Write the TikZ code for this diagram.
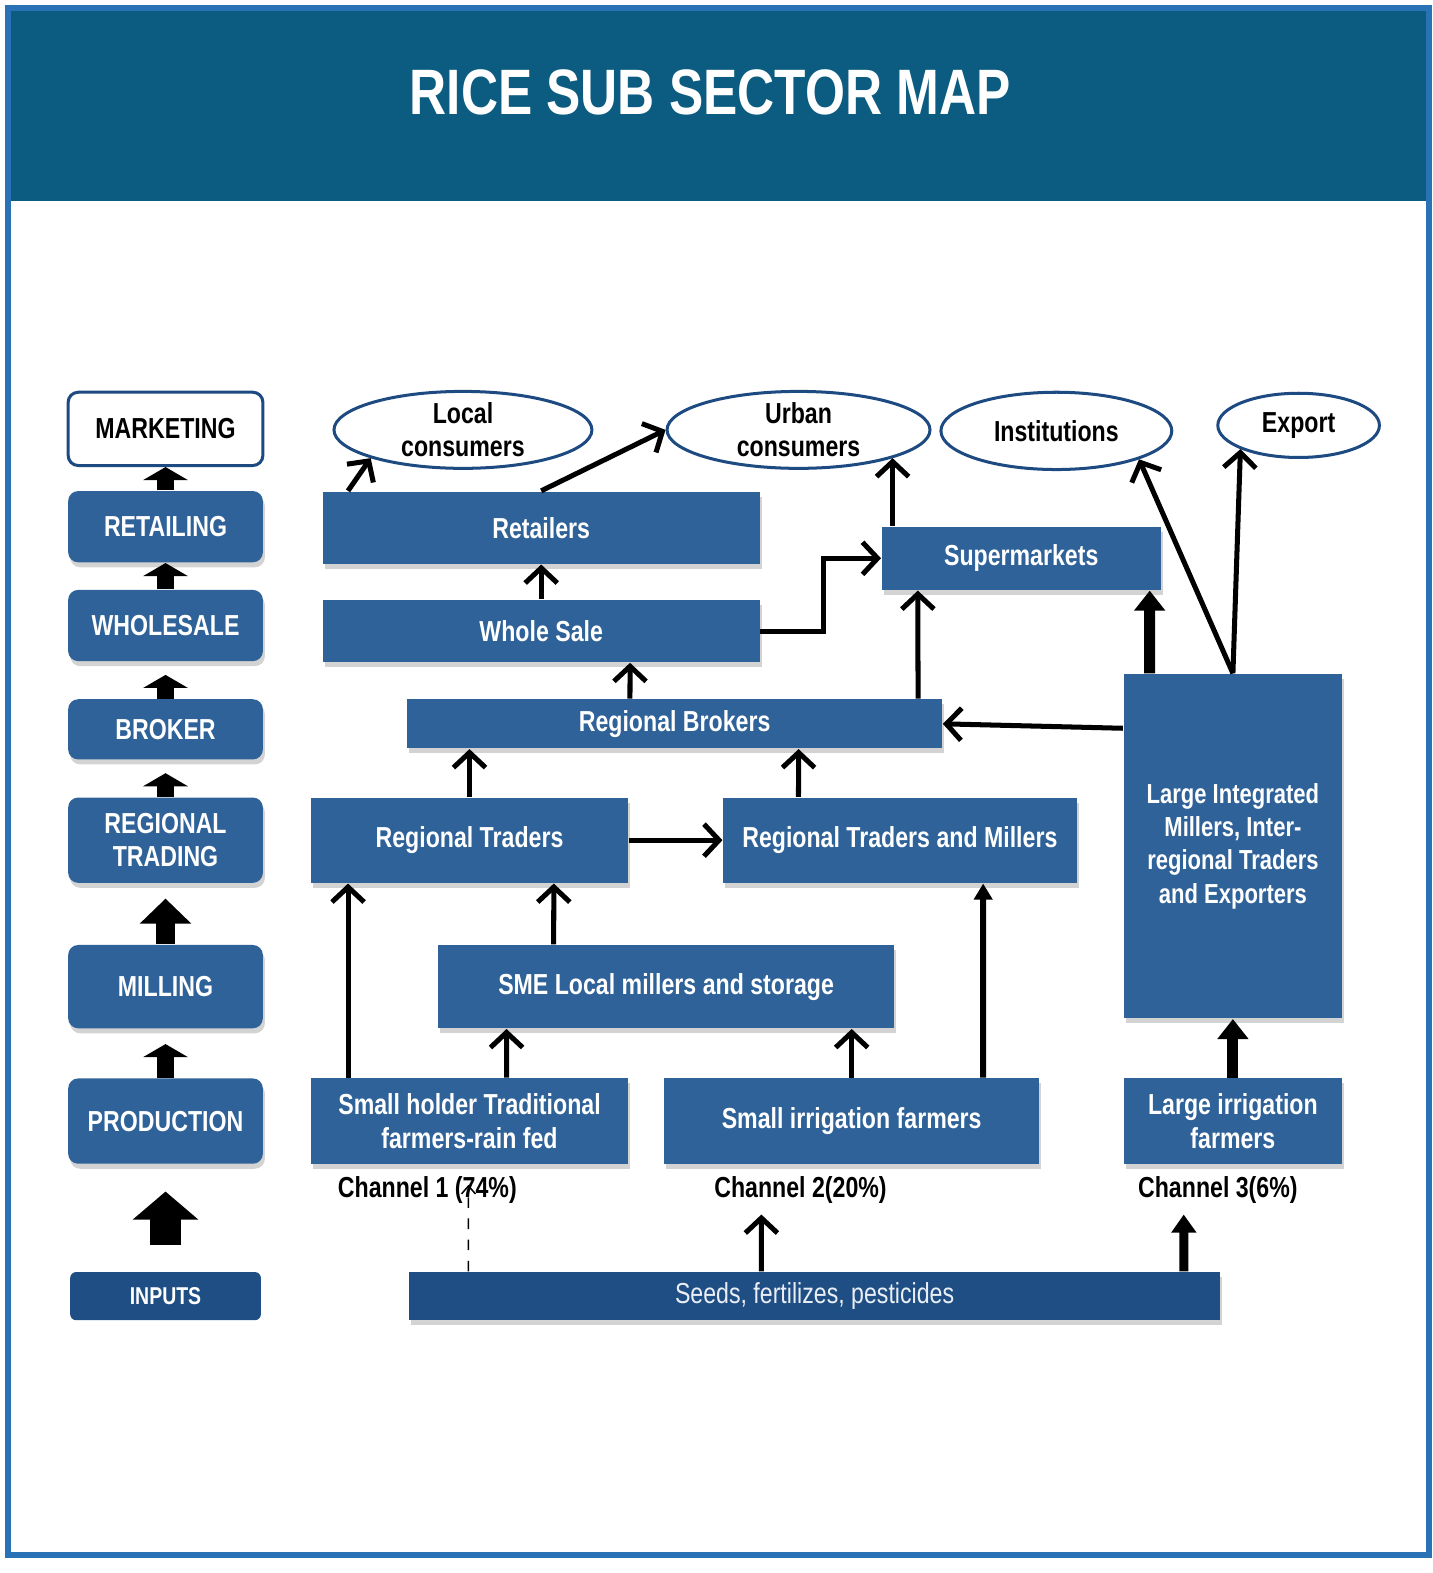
\documentclass[tikz,border=0pt]{standalone}
\usepackage{fontspec}
\usepackage{xcolor}
\setmainfont{Liberation Sans}[FakeStretch=0.8]
\usetikzlibrary{arrows.meta,shapes.geometric,shadows}
\definecolor{boxblue}{HTML}{2F6298}
\definecolor{inblue}{HTML}{1F4E84}
\definecolor{headblue}{HTML}{0B5C80}
\definecolor{frameblue}{HTML}{2A72B6}
\definecolor{rimblue}{HTML}{1E4A82}
\newcommand{\BoxFont}{\fontsize{8.2}{9.4}\selectfont\bfseries}

\begin{document}
\begin{tikzpicture}[x=0.01cm,y=-0.01cm,
  lift/.style={drop shadow={shadow xshift=0.02cm,shadow yshift=-0.05cm,opacity=0.35}},
  stage/.style={rectangle,rounded corners=0.1cm,fill=boxblue,text=white,font=\BoxFont,
    minimum width=1.94cm,inner sep=0pt,align=center},
  actor/.style={rectangle,fill=boxblue,text=white,font=\BoxFont,inner sep=0pt,align=center,lift},
  market/.style={ellipse,draw=rimblue,line width=0.03cm,fill=white,inner sep=0pt,font=\BoxFont,align=center},
  chan/.style={font=\BoxFont,inner sep=1pt},
  flow/.style={draw,line width=0.05cm,-{Straight Barb[length=0.15cm,width=0.32cm]}},
  midflow/.style={draw,line width=0.06cm,-{Triangle[length=0.16cm,width=0.18cm]}},
  fatflow/.style={draw,line width=0.11cm,-{Triangle[length=0.2cm,width=0.3cm]}},
  stepup/.style={draw,line width=0.17cm,-{Triangle[length=0.13cm,width=0.44cm]}}]
\useasboundingbox (0,0) rectangle (1428,1568);

\fill[headblue] (8,8) rectangle (1424,200);% Header band
\node[font=\fontsize{18.2}{20}\selectfont\bfseries,text=white] (ttl) at (708,92) {RICE SUB SECTOR MAP};

% Stages on the left
\node[stage,fill=white,text=black,draw=rimblue,line width=0.03cm,minimum height=0.73cm] (mkt) at (165,427.5) {MARKETING};
\node[stage,lift,minimum height=0.71cm] (rtl) at (165,525) {RETAILING};
\node[stage,lift,minimum height=0.71cm] (whl) at (165,623.5) {WHOLESALE};
\node[stage,lift,minimum height=0.60cm] (brk) at (165,727) {BROKER};
\node[stage,lift,minimum height=0.85cm] (rgt) at (165,837.5) {REGIONAL\\TRADING};
\node[stage,lift,minimum height=0.83cm] (mil) at (165,983.5) {MILLING};
\node[stage,lift,minimum height=0.85cm] (prd) at (165,1117.5) {PRODUCTION};
\node[stage,fill=inblue,rounded corners=0.06cm,minimum width=1.9cm,minimum height=0.48cm,
  font=\fontsize{6.9}{8}\selectfont\bfseries] (inp) at (165,1292) {INPUTS};

\draw[stepup] (rtl.north) -- (mkt.south);
\draw[stepup] (whl.north) -- (rtl.south);
\draw[stepup,shorten >=0.13cm] (brk.north) -- (whl.south);
\draw[stepup,shorten >=0.13cm] (rgt.north) -- (brk.south);
\draw[draw,line width=0.19cm,-{Triangle[length=0.25cm,width=0.5cm]},shorten >=0.15cm] (mil.north) -- (rgt.south);
\draw[stepup,shorten >=0.15cm] (prd.north) -- (mil.south);
\draw[draw,line width=0.31cm,-{Triangle[length=0.28cm,width=0.64cm]},shorten <=0.26cm,shorten >=0.27cm] (inp.north) -- (prd.south);

% Consumers
\node[market,minimum width=2.57cm,minimum height=0.75cm] (lc) at (461.5,428.5) {Local\\consumers};
\node[market,minimum width=2.62cm,minimum height=0.75cm] (uc) at (796,428.5) {Urban\\consumers};
\node[market,minimum width=2.30cm,minimum height=0.77cm] (ins) at (1053,429.5) {Institutions};
\node[market,minimum width=1.61cm,minimum height=0.64cm] (exp) at (1294.5,424) {Export};

% Chain actors
\node[actor,minimum width=4.35cm,minimum height=0.72cm] (ret) at (539.5,526) {Retailers};
\node[actor,minimum width=4.35cm,minimum height=0.62cm] (whs) at (539.5,629) {Whole Sale};
\node[actor,minimum width=2.78cm,minimum height=0.63cm] (sup) at (1018,556.5) {Supermarkets};
\node[actor,minimum width=5.33cm,minimum height=0.49cm] (rbk) at (672.5,721.5) {Regional Brokers};
\node[actor,minimum width=3.16cm,minimum height=0.85cm] (rtr) at (468,837.5) {Regional Traders};
\node[actor,minimum width=3.52cm,minimum height=0.85cm] (rtm) at (897,837.5) {Regional Traders and Millers};
\node[actor,minimum width=2.18cm,minimum height=3.43cm,font=\fontsize{7.8}{9.4}\selectfont\bfseries] (lim) at (1229,843.5)
  {Large Integrated\\Millers, Inter-\\regional Traders\\and Exporters};
\node[actor,minimum width=4.54cm,minimum height=0.83cm] (sme) at (664,983.5) {SME Local millers and storage};
\node[actor,minimum width=3.16cm,minimum height=0.85cm] (shf) at (468,1117.5) {Small holder Traditional\\farmers-rain fed};
\node[actor,minimum width=3.74cm,minimum height=0.85cm] (sif) at (849,1117.5) {Small irrigation farmers};
\node[actor,minimum width=2.18cm,minimum height=0.85cm] (lif) at (1229,1117.5) {Large irrigation\\farmers};
\node[actor,fill=inblue,minimum width=8.08cm,minimum height=0.48cm,font=\fontsize{8.2}{9.4}\selectfont,
  text=white!90!boxblue] (sds) at (812,1292) {Seeds, fertilizes, pesticides};

\node[chan] (ch1) at (426,1186) {Channel 1 (74\%)};
\node[chan] (ch2) at (798,1186) {Channel 2(20\%)};
\node[chan] (ch3) at (1214,1186) {Channel 3(6\%)};

% Flows
\draw[flow] ([xshift=-1.925cm]ret.north) -- (lc.south west);
\draw[flow] (ret.north) -- (uc.west);
\draw[flow] (whs.north) -- (ret.south);
\draw[flow] ([xshift=-0.445cm]rbk.north) -- ([xshift=0.885cm]whs.south);
\draw[flow] (whs.east) -- ++(63,0) |- (sup.west);
\draw[flow] (sup.north -| uc.south east) -- (uc.south east);
\draw[flow] ([xshift=2.425cm]rbk.north) -- ([xshift=-1.03cm]sup.south);
\draw[fatflow] ([xshift=-0.83cm]lim.north) -- ([xshift=1.28cm]sup.south);
\draw[flow] (lim.north) -- (ins.south east);
\draw[flow] (lim.north) -- (exp.south west);
\draw[flow] ([yshift=1.175cm]lim.west) -- (rbk.east);
\draw[flow] (rtr.north) -- (rtr.north |- rbk.south);
\draw[flow] ([xshift=-1.01cm]rtm.north) -- ([xshift=1.235cm]rbk.south);
\draw[flow] (rtr.east) -- (rtm.west);
\draw[flow] ([xshift=-1.21cm]shf.north) -- ([xshift=-1.21cm]rtr.south);
\draw[flow] ([xshift=-1.12cm]sme.north) -- ([xshift=0.84cm]rtr.south);
\draw[flow] ([xshift=0.37cm]shf.north) -- ([xshift=-1.59cm]sme.south);
\draw[flow] (sif.north) -- (sif.north |- sme.south);
\draw[midflow] ([xshift=1.31cm]sif.north) -- ([xshift=0.83cm]rtm.south);
\draw[fatflow] (lif.north) -- (lim.south);

% Inputs to the channels
\draw[dashed,line width=0.015cm,-{Straight Barb[length=0.08cm,width=0.14cm]}] ([xshift=-3.45cm]sds.north) -- ([xshift=0.41cm,yshift=0.05cm]ch1.center);
\draw[flow] ([xshift=-0.53cm]sds.north) -- ([xshift=-0.39cm,yshift=-0.07cm]ch2.south);
\draw[draw,line width=0.09cm,-{Triangle[length=0.18cm,width=0.24cm]}] ([xshift=3.68cm]sds.north) -- ([xshift=-0.34cm,yshift=-0.07cm]ch3.south);

\draw[frameblue,line width=0.06cm] (8,8) rectangle (1424,1550);% Outer frame
\end{tikzpicture}
\end{document}
